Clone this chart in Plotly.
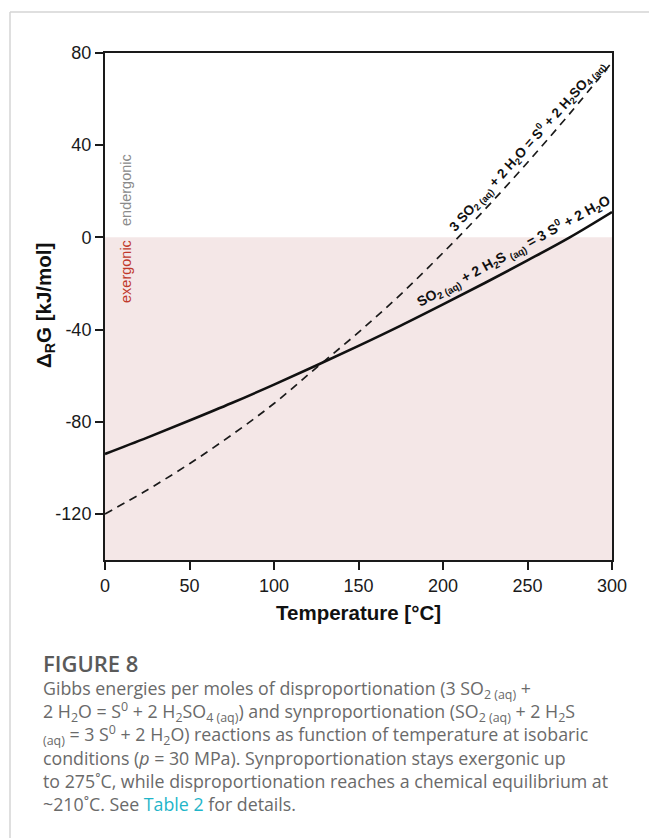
import plotly.graph_objects as go

# ---------------- data ----------------
temperature_c = [0, 25, 50, 75, 100, 125, 150, 175, 200, 225, 250, 275, 300]
# synproportionation: SO2 + 2 H2S = 3 S0 + 2 H2O   (solid)
dg_synprop = [-94.0, -86.9, -79.5, -71.9, -63.9, -55.6, -47.1, -38.3, -29.1, -19.7, -10.0, 0.0, 11.0]
# disproportionation: 3 SO2 + 2 H2O = S0 + 2 H2SO4 (dashed)
dg_disprop = [-120.0, -109.6, -98.2, -85.7, -72.1, -56.6, -41.2, -24.7, -6.7, 12.3, 32.5, 53.7, 76.0]

x_ticks = [0, 50, 100, 150, 200, 250, 300]
x_tick_text = ["0", "50", "100", "150", "200", "250", "300"]
y_ticks = [80, 40, 0, -40, -80, -120]
y_tick_text = ["80", "40", "0", "-40", "-80", "-120"]
x_range = [0, 300]
y_range = [-140, 80]

label_disprop = ("<b>3 SO<sub>2 (aq)</sub> + 2 H<sub>2</sub>O = S<sup>0</sup> + "
                 "2 H<sub>2</sub>SO<sub>4 (aq)</sub></b>")
label_synprop = ("<b>SO<sub>2 (aq)</sub> + 2 H<sub>2</sub>S <sub>(aq)</sub> = "
                 "3 S<sup>0</sup> + 2 H<sub>2</sub>O</b>")

caption_title = "FIGURE 8"
caption_lines = [
    "Gibbs energies per moles of disproportionation (3 SO<sub>2 (aq)</sub> +",
    "2 H<sub>2</sub>O = S<sup>0</sup> + 2 H<sub>2</sub>SO<sub>4 (aq)</sub>) and synproportionation (SO<sub>2 (aq)</sub> + 2 H<sub>2</sub>S",
    "<sub>(aq)</sub> = 3 S<sup>0</sup> + 2 H<sub>2</sub>O) reactions as function of temperature at isobaric",
    "conditions (<i>p</i> = 30 MPa). Synproportionation stays exergonic up",
    "to 275˚C, while disproportionation reaches a chemical equilibrium at",
    "~210˚C. See <span style='color:#1fb5c9'>Table 2</span> for details.",
]

# ---------------- layout geometry ----------------
W, H = 649, 838
L, R, T, B = 105, 612, 53, 560


def px(x):
    return (x - L) / (R - L)


def py(y):
    return 1 - (y - T) / (B - T)


FONT = "Liberation Sans, Arial, sans-serif"
CAP_FONT = "Open Sans, Lato, sans-serif"

fig = go.Figure()

fig.add_trace(go.Scatter(
    x=temperature_c, y=dg_disprop, mode="lines",
    line=dict(color="#1a1a1a", width=1.7, dash="8px,6px", shape="spline"),
    showlegend=False, hoverinfo="skip"))
fig.add_trace(go.Scatter(
    x=temperature_c, y=dg_synprop, mode="lines",
    line=dict(color="#111111", width=2.6, shape="spline"),
    showlegend=False, hoverinfo="skip"))

# exergonic region
fig.add_shape(type="rect", xref="x", yref="y", x0=x_range[0], x1=x_range[1],
              y0=y_range[0], y1=0, fillcolor="#f4e7e7", line_width=0, layer="below")

# card border (left + top)
fig.add_shape(type="line", xref="paper", yref="paper", x0=px(10), x1=px(10),
              y0=py(12), y1=py(900), line=dict(color="#d4d4d4", width=1.5))
fig.add_shape(type="line", xref="paper", yref="paper", x0=px(10), x1=px(700),
              y0=py(12), y1=py(12), line=dict(color="#d4d4d4", width=1.5))

C = dict(xanchor="center", yanchor="middle", showarrow=False)
ann = []
ann.append(dict(x=249.5, y=39.5, xref="x", yref="y", text=label_disprop, textangle=-48,
                font=dict(family=FONT, size=13.5, color="#111"), **C))
ann.append(dict(x=241.5, y=-6.0, xref="x", yref="y", text=label_synprop, textangle=-28.5,
                font=dict(family=FONT, size=14, color="#111"), **C))
ann.append(dict(x=px(126), y=py(190), xref="paper", yref="paper", text="endergonic",
                textangle=-90, font=dict(family=FONT, size=14.5, color="#8a8a8a"), **C))
ann.append(dict(x=px(126), y=py(272), xref="paper", yref="paper", text="exergonic",
                textangle=-90, font=dict(family=FONT, size=14.5, color="#c0392b"), **C))
# axis titles
ann.append(dict(x=px(45), y=py(306), xref="paper", yref="paper",
                text="<b>Δ<sub>R</sub>G [kJ/mol]</b>", textangle=-90,
                font=dict(family=FONT, size=20.5, color="#111"), **C))
ann.append(dict(x=px(358.5), y=py(612), xref="paper", yref="paper",
                text="<b>Temperature [°C]</b>",
                font=dict(family=FONT, size=20.5, color="#111"), **C))
# caption
ann.append(dict(x=px(41), y=py(663), xref="paper", yref="paper", xanchor="left",
                yanchor="middle", text=caption_title, showarrow=False,
                font=dict(family=CAP_FONT, size=22, color="#5a5a5a", weight=600)))
for i, line in enumerate(caption_lines):
    ann.append(dict(x=px(41), y=py(689 + 23 * i), xref="paper", yref="paper",
                    xanchor="left", yanchor="middle", text=line, showarrow=False,
                    font=dict(family=CAP_FONT, size=17.8, color="#6a6a6a")))

axis_common = dict(showline=True, linecolor="#1a1a1a", linewidth=2, mirror=True,
                   ticks="outside", ticklen=8, tickwidth=1.5, tickcolor="#1a1a1a",
                   showgrid=False, zeroline=False,
                   tickfont=dict(family=FONT, size=18, color="#1a1a1a"))

fig.update_layout(
    width=W, height=H,
    margin=dict(l=L, r=W - R, t=T, b=H - B),
    paper_bgcolor="white", plot_bgcolor="white",
    xaxis=dict(range=x_range, tickvals=x_ticks, ticktext=x_tick_text, **axis_common),
    yaxis=dict(range=y_range, tickvals=y_ticks, ticktext=y_tick_text, **axis_common),
    annotations=ann,
    showlegend=False,
)

fig.write_html("out.html", config={"displayModeBar": False},
               post_script="document.body.style.margin='0';")
